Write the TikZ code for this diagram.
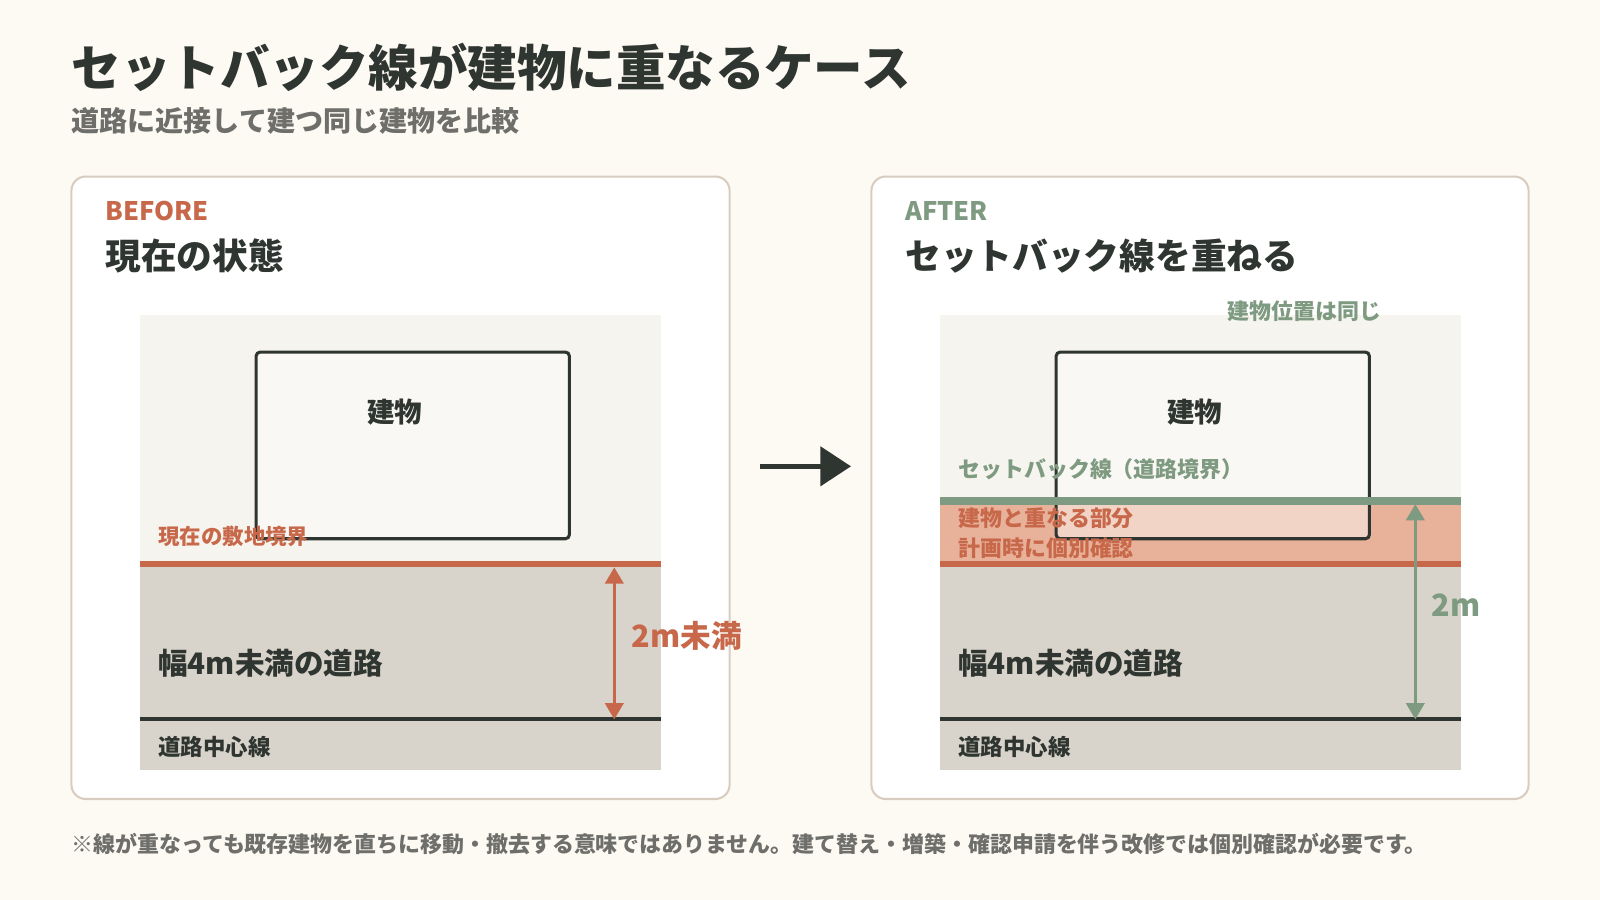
\documentclass[tikz,border=0pt]{standalone}
\usepackage{fontspec}
\setmainfont{Noto Sans CJK JP}[UprightFont={* Black}]
\usetikzlibrary{arrows.meta,positioning}
\definecolor{bg}{HTML}{FDF9F3}
\definecolor{ink}{HTML}{2F3530}
\definecolor{gray}{HTML}{6E6E6A}
\definecolor{rust}{HTML}{C8684A}
\definecolor{sage}{HTML}{7E9A80}
\definecolor{edge}{HTML}{D8CCBF}
\definecolor{site}{HTML}{F6F4EE}
\definecolor{road}{HTML}{D9D4CB}
\definecolor{band}{HTML}{E8B199}
\newcommand{\fs}[1]{\fontsize{#1}{#1}\selectfont}
\tikzset{
  txt/.style={anchor=base west,inner sep=0pt},
  card/.style={fill=white,draw=edge,line width=2pt,rounded corners=14pt},
  house/.style={draw=ink,line width=3pt,rounded corners=4pt,fill=white,fill opacity=0.45},
  dim/.style={line width=3pt,{Triangle[length=16pt,width=18pt]}-{Triangle[length=16pt,width=18pt]}},
}
\begin{document}
\begin{tikzpicture}[x=1pt,y=-1pt]
	%background
	\fill[bg] (0,0) rectangle (1568,882);
	\useasboundingbox (0,0) rectangle (1568,882);

	%title
	\node[txt,ink,font=\fs{48.5}] (title) at (70,85) {セットバック線が建物に重なるケース};
	\node[txt,gray,font=\fs{27.5}] (sub) at (70,129) {道路に近接して建つ同じ建物を比較};

	%cards
	\draw[card] (70,173) rectangle (715,783);
	\draw[card] (854,173) rectangle (1498,783);

	%BEFORE ----------------------------------------
	\node[txt,rust,font=\fs{25}] (bef) at (103,216) {BEFORE};
	\node[txt,ink,font=\fs{35}] (befh) at (103,264) {現在の状態};
	\fill[site] (137,309) rectangle (648,553);
	\fill[road] (137,553) rectangle (648,755);
	\draw[house] (251,345) rectangle (558,528);
	\node[ink,font=\fs{27}] (bld1) at (387,404) {建物};
	\draw[rust,line width=6pt] (137,553) coordinate (b1l) -- (648,553) coordinate (b1r); %boundary
	\draw[ink,line width=4pt] (137,705) -- (648,705); %center line
	\node[txt,rust,font=\fs{21}] (bnd1) at (155,534) {現在の敷地境界};
	\coordinate (d1t) at (602,556);
	\coordinate (d1b) at (602,705);
	\draw[dim,rust] (d1t) -- (d1b); %width arrow
	\node[txt,rust,font=\fs{30}] (w1) at (619,635) {2m未満};
	\node[txt,ink,font=\fs{29}] (road1) at (155,661) {幅4m未満の道路};
	\node[txt,ink,font=\fs{22}] (cl1) at (155,740) {道路中心線};

	%arrow
	\coordinate (a1) at (745,457);
	\coordinate (a2) at (834,457);
	\draw[ink,line width=5pt,-{Triangle[length=30pt,width=38pt]}] (a1) -- (a2);

	%AFTER -----------------------------------------
	\node[txt,sage,font=\fs{25}] (aft) at (887,216) {AFTER};
	\node[txt,ink,font=\fs{35}] (afth) at (887,264) {セットバック線を重ねる};
	\fill[site] (921,309) rectangle (1432,553);
	\fill[road] (921,553) rectangle (1432,755);
	\fill[band] (921,491) rectangle (1432,553); %overlap band
	\node[txt,sage,font=\fs{21.5}] (same) at (1203,313) {建物位置は同じ};
	\draw[house] (1035,345) rectangle (1342,528);
	\node[ink,font=\fs{27}] (bld2) at (1171,404) {建物};
	\draw[sage,line width=7pt] (921,491) -- (1432,491); %setback line
	\draw[rust,line width=6pt] (921,553) -- (1432,553); %old boundary
	\draw[ink,line width=4pt] (921,705) -- (1432,705); %center line
	\node[txt,sage,font=\fs{21.5}] (sb) at (939,468) {セットバック線（道路境界）};
	\node[txt,rust,font=\fs{21.5}] (ov1) at (939,516) {建物と重なる部分};
	\node[txt,rust,font=\fs{21.5}] (ov2) at (939,545) {計画時に個別確認};
	\coordinate (d2t) at (1387,494);
	\coordinate (d2b) at (1387,705);
	\draw[dim,sage] (d2t) -- (d2b); %2m arrow
	\node[txt,sage,font=\fs{30}] (w2) at (1403,604) {2m};
	\node[txt,ink,font=\fs{29}] (road2) at (939,661) {幅4m未満の道路};
	\node[txt,ink,font=\fs{22}] (cl2) at (939,740) {道路中心線};

	%note
	\node[txt,gray,font=\fs{21.5}] (note) at (70,835) {※線が重なっても既存建物を直ちに移動・撤去する意味ではありません。建て替え・増築・確認申請を伴う改修では個別確認が必要です。};
\end{tikzpicture}
\end{document}
